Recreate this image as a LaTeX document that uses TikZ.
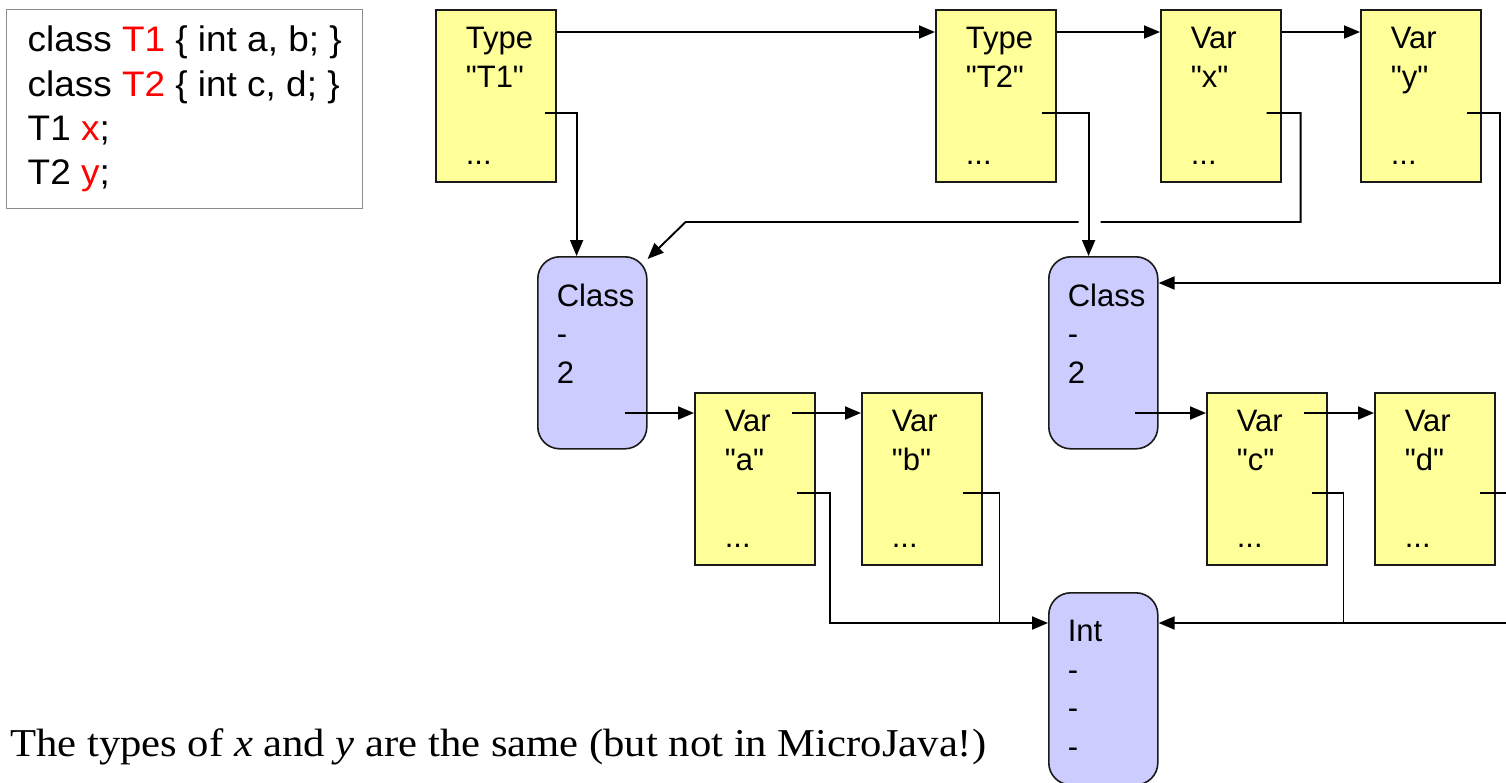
\documentclass[tikz,border=0pt]{standalone}
\usepackage{fontspec}
\setmainfont{Liberation Serif}
\newfontfamily\arialfont{Liberation Sans}
\usepackage{xcolor}
\usetikzlibrary{arrows.meta}
\definecolor{vblack}{HTML}{000000}
\definecolor{vframe}{HTML}{1a1a1a}
\definecolor{vyellow}{HTML}{FFFF99}
\definecolor{vlilac}{HTML}{CCCCFF}
\definecolor{vgray}{HTML}{8c8c8c}
\definecolor{vred}{HTML}{FF0000}

\begin{document}
\begin{tikzpicture}[x=1pt, y=-1pt,
		obj/.style={draw=vframe, line width=1.6pt, fill=vyellow, anchor=north west, inner xsep=30pt, inner ysep=0pt, text width=60pt, minimum height=172pt, align=left, font=\arialfont\fontsize{31}{38.5}\selectfont},
		struct/.style={obj, fill=vlilac, rounded corners=22pt, inner xsep=19pt, text width=71pt, minimum height=192pt},
		link/.style={color=vblack, line width=1.9pt, -{Triangle[length=16pt, width=13pt]}},
		stub/.style={color=vblack, line width=1.6pt}]
		\useasboundingbox (0,0) rectangle (1506,782);
		\clip (0,0) rectangle (1506,782);

		\node[draw=vgray, line width=1.4pt, anchor=north west, minimum width=356pt, minimum height=199pt, inner xsep=18pt, align=left, font=\arialfont\fontsize{35.5}{44.3}\selectfont] (code) at (6,9)
			{\scalebox{1.04}[1]{class \textcolor{vred}{T1} \{ int a, b; \}}\\\scalebox{1.04}[1]{class \textcolor{vred}{T2} \{ int c, d; \}}\\\scalebox{1.04}[1]{T1 \textcolor{vred}{x};}\\\scalebox{1.04}[1]{T2 \textcolor{vred}{y};}};
		\node[anchor=base west, inner sep=0pt, font=\fontsize{39.5}{46}\selectfont] (note) at (10,756)
			{\scalebox{1.08}[1]{The types of \textit{x} and \textit{y} are the same (but not in MicroJava!)}};

		\node[obj] (T1) at (435,9) {Type\\"T1"\\\mbox{}\\...};
		\node[obj] (T2) at (935,9) {Type\\"T2"\\\mbox{}\\...};
		\node[obj] (X) at (1160,9) {Var\\"x"\\\mbox{}\\...};
		\node[obj] (Y) at (1360,9) {Var\\"y"\\\mbox{}\\...};
		\node[struct] (C1) at (537,256) {Class\\-\\2\\\mbox{}};
		\node[struct] (C2) at (1048,256) {Class\\-\\2\\\mbox{}};
		\node[obj] (A) at (694,392) {Var\\"a"\\\mbox{}\\...};
		\node[obj] (B) at (861,392) {Var\\"b"\\\mbox{}\\...};
		\node[obj] (C) at (1206,392) {Var\\"c"\\\mbox{}\\...};
		\node[obj] (D) at (1374,392) {Var\\"d"\\\mbox{}\\...};
		\node[struct] (Int) at (1048,592) {Int\\-\\-\\-};

		\draw[link] ([yshift=-23pt]T1.north east) -- ([yshift=-23pt]T2.north west);
		\draw[link] ([yshift=-23pt]T2.north east) -- ([yshift=-23pt]X.north west);
		\draw[link] ([yshift=-23pt]X.north east) -- ([yshift=-23pt]Y.north west);

		\coordinate (t1s) at ([xshift=-12pt, yshift=-104pt]T1.north east);
		\coordinate (t2s) at ([xshift=-15pt, yshift=-104pt]T2.north east);
		\coordinate (xs) at ([xshift=-15pt, yshift=-104pt]X.north east);
		\coordinate (ys) at ([xshift=-15pt, yshift=-104pt]Y.north east);
		\draw[link] (t1s) -- ++(32,0) coordinate (t1k) -- (t1k |- C1.north);
		\draw[link] (t2s) -- ++(47,0) coordinate (t2k) -- (t2k |- C2.north);
		\draw[link] (xs) -- ++(34,0) -- ++(0,109) coordinate (xd) -- ([xshift=12pt]xd -| t2k)
			([xshift=-10pt]xd -| t2k) -- ([xshift=38pt]xd -| C1.north east) -- ([yshift=-3pt]C1.north east);
		\draw[link] (ys) -- ++(33,0) |- ([yshift=-27pt]C2.north east);

		\coordinate (c1s) at ([xshift=-23pt, yshift=-157pt]C1.north east);
		\coordinate (c2s) at ([xshift=-24pt, yshift=-157pt]C2.north east);
		\coordinate (as) at ([xshift=-24pt, yshift=-21pt]A.north east);
		\coordinate (cs) at ([xshift=-24pt, yshift=-21pt]C.north east);
		\draw[link] (c1s) -- (c1s -| A.west);
		\draw[link] (as) -- (as -| B.west);
		\draw[link] (c2s) -- (c2s -| C.west);
		\draw[link] (cs) -- (cs -| D.west);

		\coordinate (ia) at ([yshift=-31pt]Int.north west);
		\coordinate (ib) at ([yshift=-31pt]Int.north east);
		\draw[link] ([xshift=-19pt, yshift=-101pt]A.north east) -- ++(33,0) |- (ia);
		\draw[stub] ([xshift=-20pt, yshift=-101pt]B.north east) -- ++(37,0) coordinate (bk) -- (bk |- ia);
		\draw[link] ([xshift=-16pt, yshift=-101pt]D.north east) -- ++(33,0) |- (ib);
		\draw[stub] ([xshift=-16pt, yshift=-101pt]C.north east) -- ++(32,0) coordinate (ck) -- (ck |- ib);
	\end{tikzpicture}
\end{document}
